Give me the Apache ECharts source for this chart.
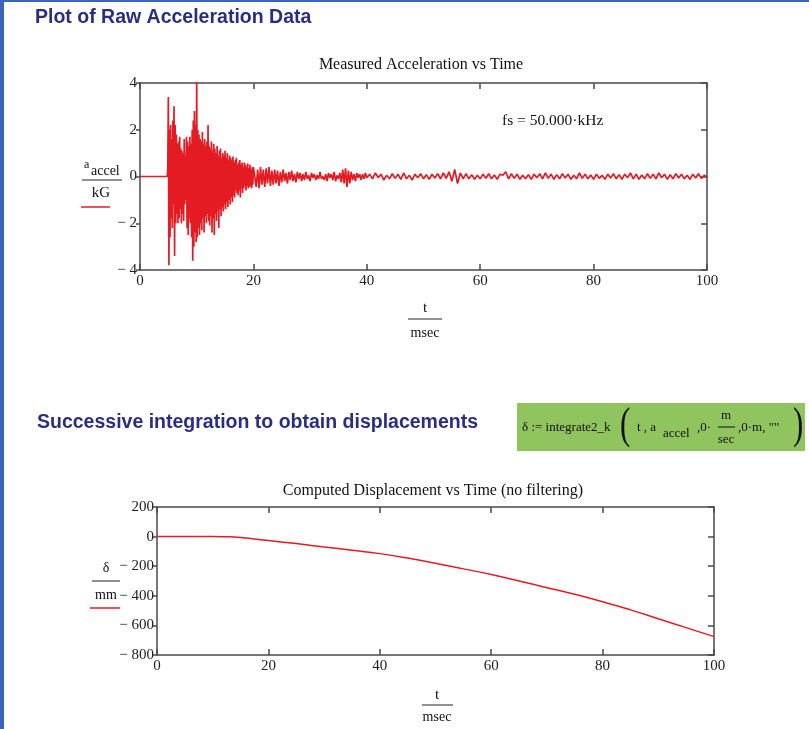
<!DOCTYPE html>
<html><head><meta charset="utf-8">
<script src="https://cdn.jsdelivr.net/npm/echarts@6/dist/echarts.min.js"></script>
<style>html,body{margin:0;padding:0;background:#fff}#c{width:809px;height:729px}</style>
</head><body><div id="c"></div>
<script>
// ---------- data ----------
const tLabels = [0, 20, 40, 60, 80, 100];
const accelLabels = [-4, -2, 0, 2, 4];
const dispLabels = [-800, -600, -400, -200, 0, 200];

// acceleration (kG) vs time (ms); fs = 50 kHz, shown here on a coarser read grid
const quietTimes = [0, 4.8];
const quietValues = [0, 0];

const burstStart = 4.9, burstStep = 0.1;
const burstValues = [
 0.3, 3.4, -3.8, 2.0, -2.6, 2.2, -1.8, 1.6, -2.2, 2.4,
 -1.2, 3.0, -3.4, 2.2, -2.0, 1.8, -1.6, 1.4, -2.0, 1.5,
 -1.8, 1.7, -1.4, 1.2, -2.0, 1.1, -1.6, 1.0, -1.9, 1.6,
 -1.2, 0.9, -1.0, 1.7, -2.2, 1.5, -2.5, 1.3, -1.8, 1.7,
 -2.0, 1.4, -2.6, 2.0, -3.6, 2.4, -3.0, 2.8, -2.4, 2.2,
 -2.8, 4.3, -2.6, 2.0, -2.2, 1.8, -2.5, 1.6, -2.0, 1.5,
 -2.3, 1.9, -1.8, 1.4, -2.4, 1.6, -1.7, 1.3, -2.0, 1.5,
 -1.6, 2.2, -1.9, 1.3, -2.1, 1.2, -1.7, 1.5, -2.4, 1.1,
 -1.8, 1.4, -2.5, 1.2, -1.6, 1.0, -1.9, 1.3, -1.5, 0.9,
 -2.2, 1.1, -1.4, 1.2, -1.7, 0.8, -1.3, 1.0, -1.5, 0.9,
 -1.2, 1.1, -1.4, 0.8, -1.1, 1.0, -1.3, 0.7, -1.0, 0.9,
 -1.2, 0.8, -0.9, 0.7, -1.1, 0.85, -0.8, 0.6, -0.9, 0.7,
 -0.6, 0.8, -0.7, 0.5, -0.8, 0.6, -0.6, 0.7, -0.9, 0.5,
 -0.5, 0.6, -0.7, 0.4, -0.5, 0.6, -0.4, 0.5, -0.6, 0.4,
 -0.4, 0.55, -0.5, 0.35, -0.45, 0.5, -0.4, 0.3, -0.5, 0.4,
 -0.35, 0.4
];

const decayStart = 20.25, decayStep = 0.25;
const decayValues = [
 0.35, -0.45, 0.3, -0.5, 0.4, -0.35, 0.3, -0.45, 0.35, -0.3,
 0.4, -0.4, 0.25, -0.35, 0.3, -0.3, 0.25, -0.4, 0.2, -0.25,
 0.3, -0.2, 0.15, -0.3, 0.2, -0.15, 0.25, -0.2, 0.1, -0.25,
 0.2, -0.1, 0.15, -0.2, 0.1, -0.15, 0.2, -0.1, 0.05, -0.2,
 0.15, -0.05, 0.1, -0.15, 0.05, -0.1, 0.2, -0.1, 0.0, -0.15,
 0.1, -0.2, 0.15, -0.05, 0.1, -0.15, 0.2, -0.2, 0.05, -0.1,
 0.15, -0.25, 0.3, -0.3, 0.35, -0.45, 0.25, -0.3, 0.2, -0.15,
 0.1, -0.2, 0.15, -0.05, 0.1, -0.15, 0.1, -0.1, 0.15, -0.05
];

const tailStart = 40.5, tailStep = 0.5;
const tailValues = [
 0.1, -0.1, 0.15, -0.05, 0.1, -0.15, 0.05, -0.1, 0.12, -0.08,
 0.1, -0.12, 0.15, -0.1, 0.05, -0.15, 0.1, -0.05, 0.12, -0.1,
 0.08, -0.12, 0.1, -0.06, 0.12, -0.1, 0.15, -0.08, 0.2, -0.2,
 0.3, -0.3, 0.15, -0.1, 0.12, -0.1, 0.08, -0.12, 0.05, -0.1,
 0.1, -0.08, 0.12, -0.1, 0.06, -0.12, 0.1, 0.05, 0.2, -0.1,
 0.12, -0.08, 0.1, -0.12, 0.05, -0.1, 0.08, -0.12, 0.1, -0.05,
 0.12, -0.1, 0.15, -0.08, 0.1, -0.12, 0.08, -0.1, 0.12, -0.06,
 0.1, -0.12, 0.05, -0.1, 0.15, -0.08, 0.1, -0.1, 0.06, -0.12,
 0.1, -0.08, 0.05, -0.12, 0.1, -0.06, 0.12, -0.1, 0.08, -0.12,
 0.1, -0.05, 0.15, -0.1, 0.1, -0.12, 0.06, -0.1, 0.12, -0.08,
 0.1, -0.1, 0.15, -0.05, 0.1, -0.12, 0.08, -0.1, 0.12, -0.06,
 0.1, -0.1, 0.05, -0.12, 0.1, -0.06, 0.12, -0.08, 0.05, -0.02
];

// displacement (mm) vs time (ms)
const dispTimes  = [0, 5, 10, 12, 15, 20, 25, 30, 35, 40, 45, 50, 55, 60, 65, 70, 75, 80, 85, 90, 95, 100];
const dispValues = [0, 0, 0, -1, -6, -27, -47, -70, -92, -115, -145, -180, -218, -256, -300, -345, -390, -440, -495, -555, -615, -676];

// ---------- build ----------
const serif = "'Liberation Serif', 'Times New Roman', serif";
const sans = "'Liberation Sans', Arial, sans-serif";
const red = '#e41b23';
const navy = '#2a2d82';
function seg(start, step, vals) { return vals.map((v, i) => [+(start + i * step).toFixed(2), v]); }
const accelData = quietTimes.map((t, i) => [t, quietValues[i]])
  .concat(seg(burstStart, burstStep, burstValues), seg(decayStart, decayStep, decayValues), seg(tailStart, tailStep, tailValues));
const dispData = dispTimes.map((t, i) => [t, dispValues[i]]);

const minusFmt = v => v < 0 ? '\u2212 ' + Math.abs(v) : String(v);
const axLine = { color: '#4a4a4a', width: 1.5 };

function xAx(grid, pos, labels) {
  return {
    type: 'value', gridIndex: grid, position: pos, min: tLabels[0], max: tLabels[tLabels.length - 1],
    interval: tLabels[1] - tLabels[0],
    axisLine: { show: true, onZero: false, lineStyle: axLine },
    axisTick: { show: true, inside: true, length: 6, lineStyle: axLine },
    axisLabel: { show: labels, margin: 4, fontFamily: serif, fontSize: 15, color: '#222' },
    splitLine: { show: false }
  };
}
function yAx(grid, pos, ticks, labels) {
  return {
    type: 'value', gridIndex: grid, position: pos, min: ticks[0], max: ticks[ticks.length - 1],
    interval: ticks[1] - ticks[0],
    axisLine: { show: true, onZero: false, lineStyle: axLine },
    axisTick: { show: true, inside: !labels, length: labels ? 4 : 6, lineStyle: axLine },
    axisLabel: { show: labels, margin: 3, fontFamily: serif, fontSize: 15, color: '#222', formatter: minusFmt },
    splitLine: { show: false }
  };
}

function txt(x, y, text, font, opts, extra) {
  return Object.assign({ type: 'text', x: x, y: y, silent: true,
    style: Object.assign({ text: text, font: font, fill: '#111', align: 'left', verticalAlign: 'middle' }, opts || {}) }, extra || {});
}
function ln(x1, y1, x2, y2, color, w) {
  return { type: 'line', silent: true, shape: { x1, y1, x2, y2 }, style: { stroke: color, lineWidth: w } };
}

const f13 = '13px ' + serif, f14 = '14px ' + serif, f16 = '16px ' + serif, f12 = '12px ' + serif;

const option = {
  animation: false,
  backgroundColor: '#fff',
  grid: [
    { left: 140, top: 83, width: 567, height: 187 },
    { left: 157, top: 507, width: 557, height: 148 }
  ],
  xAxis: [xAx(0, 'bottom', true), xAx(0, 'top', false), xAx(1, 'bottom', true), xAx(1, 'top', false)],
  yAxis: [yAx(0, 'left', accelLabels, true), yAx(0, 'right', accelLabels, false),
          yAx(1, 'left', dispLabels, true), yAx(1, 'right', dispLabels, false)],
  series: [
    { type: 'line', name: 'a_accel', xAxisIndex: 0, yAxisIndex: 0, data: accelData, showSymbol: false,
      lineStyle: { color: red, width: 1.7 }, clip: true },
    { type: 'line', name: 'delta', xAxisIndex: 2, yAxisIndex: 2, data: dispData, showSymbol: false, smooth: true,
      lineStyle: { color: red, width: 1.5 }, clip: true }
  ],
  graphic: [
    // page frame
    ln(2, 0, 2, 729, '#3a63c2', 4),
    ln(0, 1, 809, 1, '#3a63c2', 2),
    // section headings
    txt(35, 18, 'Plot of Raw Acceleration Data', 'bold 19.5px ' + sans, { fill: navy }),
    txt(37, 423, 'Successive integration to obtain displacements', 'bold 19.5px ' + sans, { fill: navy }),
    // chart 1 texts
    txt(421, 65, 'Measured Acceleration vs Time', f16, { align: 'center' }),
    txt(502, 121, 'fs = 50.000\u00b7kHz', '15.5px ' + serif),
    txt(84, 165, 'a', f12),
    txt(91, 171, 'accel', f14),
    ln(82, 180, 122, 180, '#222', 1),
    txt(101, 193, 'kG', '15px ' + serif, { align: 'center' }),
    ln(81, 207, 110, 207, red, 1.5),
    txt(425, 308, 't', '15px ' + serif, { align: 'center' }),
    ln(408, 319, 442, 319, '#222', 1),
    txt(425, 333, 'msec', f14, { align: 'center' }),
    // formula box
    { type: 'rect', silent: true, shape: { x: 517, y: 403, width: 288, height: 48 }, style: { fill: '#90c45e' } },
    txt(522, 428, '\u03b4 := integrate2_k', f13),
    txt(620, 426, '(', '44px ' + serif, null, { scaleX: 0.7, originX: 0, originY: 0 }),
    txt(637, 428, 't , a', f13),
    txt(663, 434, 'accel', f13),
    txt(697, 428, ',0\u00b7', f13),
    txt(726, 416, 'm', f13, { align: 'center' }),
    ln(718, 427, 735, 427, '#111', 1),
    txt(726, 440, 'sec', f13, { align: 'center' }),
    txt(738, 428, ',0\u00b7m, ""', f13),
    txt(793, 426, ')', '44px ' + serif, null, { scaleX: 0.7, originX: 0, originY: 0 }),
    // chart 2 texts
    txt(433, 491, 'Computed Displacement vs Time (no filtering)', f16, { align: 'center' }),
    txt(106, 568, '\u03b4', f14, { align: 'center' }),
    ln(92, 581, 120, 581, '#222', 1),
    txt(106, 595, 'mm', f14, { align: 'center' }),
    ln(90, 608, 120, 608, red, 1.5),
    txt(437, 695, 't', '15px ' + serif, { align: 'center' }),
    ln(422, 705, 453, 705, '#222', 1),
    txt(437, 717, 'msec', f14, { align: 'center' })
  ]
};
const chart = echarts.init(document.getElementById('c'));
chart.setOption(option);
</script>
</body></html>
